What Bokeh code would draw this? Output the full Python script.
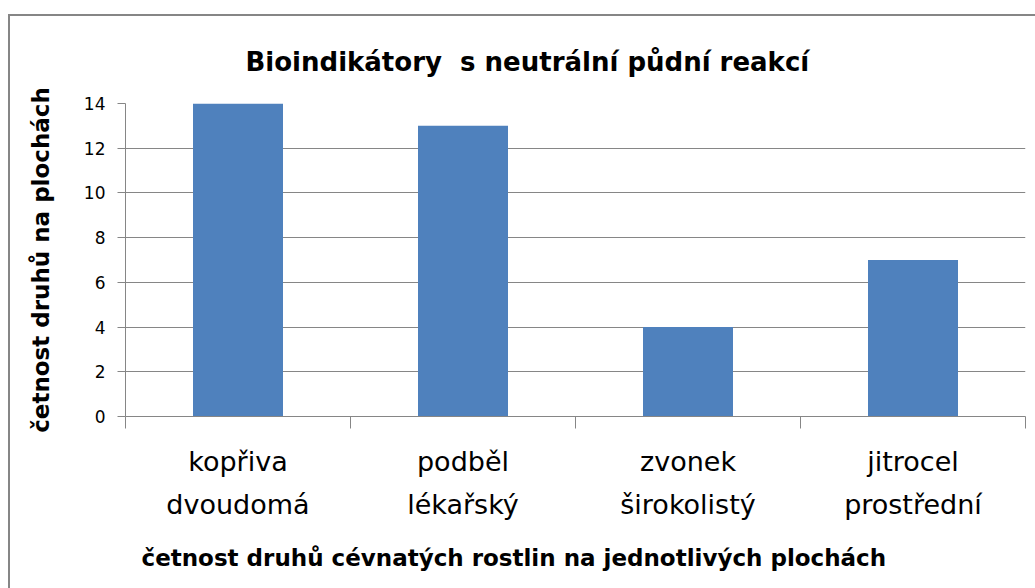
from bokeh.plotting import figure
from bokeh.models import Range1d, FixedTicker, Title, ColumnDataSource
from bokeh.embed import file_html
from bokeh.resources import INLINE

categories = ["kopřiva\ndvoudomá", "podběl\nlékařský", "zvonek\nširokolistý", "jitrocel\nprostřední"]
values = [14, 13, 4, 7]
y_ticks = [0, 2, 4, 6, 8, 10, 12, 14]
title_text = "Bioindikátory\u00a0 s neutrální půdní reakcí"
y_label = "četnost druhů na plochách"
x_label = "četnost druhů cévnatých rostlin na jednotlivých plochách"

FONT = "DejaVu Sans"
GRAY = "#868686"

centers = [i + 0.5 for i in range(len(categories))]
bounds = list(range(len(categories) + 1))

src = ColumnDataSource(dict(x=centers, top=values))

p = figure(width=1025, height=572, output_backend="svg", toolbar_location=None,
           x_range=Range1d(0, len(categories)), y_range=Range1d(0, max(y_ticks)),
           min_border_left=115, min_border_right=12, min_border_top=87, min_border_bottom=173)

p.margin = (14, 0, 0, 8)
p.styles = {"border-left": "2px solid #868686", "border-top": "2px solid #868686",
            "box-sizing": "content-box"}

p.outline_line_color = None
p.background_fill_color = "white"
p.border_fill_color = "white"

p.vbar(x="x", top="top", width=0.4, bottom=0, source=src,
       fill_color="#4F81BD", line_color=None)

# title
p.title.text = title_text
p.title.align = "left"
p.title.vertical_align = "top"
p.title.offset = 120
p.title.text_font = FONT
p.title.text_font_size = "26px"
p.title.text_font_style = "bold"
p.title.text_color = "black"
p.title.standoff = 50

# grid
p.xgrid.visible = False
p.ygrid.grid_line_color = GRAY
p.ygrid.grid_line_width = 1

# y axis
p.yaxis.ticker = FixedTicker(ticks=y_ticks)
p.yaxis.major_tick_out = 8
p.yaxis.major_tick_in = 0
p.yaxis.minor_tick_line_color = None
p.yaxis.axis_line_color = GRAY
p.yaxis.major_tick_line_color = GRAY
p.yaxis.major_label_text_font = FONT
p.yaxis.major_label_text_font_size = "17px"
p.yaxis.major_label_text_color = "black"
p.yaxis.major_label_standoff = 12
p.yaxis.axis_label = y_label
p.yaxis.axis_label_text_font = FONT
p.yaxis.axis_label_text_font_size = "23px"
p.yaxis.axis_label_text_font_style = "bold"
p.yaxis.axis_label_text_color = "black"
p.yaxis.axis_label_standoff = 27

# x axis
p.xaxis.ticker = FixedTicker(ticks=centers, minor_ticks=bounds)
p.xaxis.major_tick_line_color = None
p.xaxis.minor_tick_out = 12
p.xaxis.minor_tick_in = 0
p.xaxis.minor_tick_line_color = GRAY
p.xaxis.axis_line_color = GRAY
p.xaxis.major_label_overrides = dict(zip(centers, categories))
p.xaxis.major_label_text_font = FONT
p.xaxis.major_label_text_font_size = "27px"
p.xaxis.major_label_text_color = "black"
p.xaxis.major_label_text_line_height = 1.4
p.xaxis.major_label_standoff = 17

p.add_layout(Title(text=x_label, align="left", vertical_align="bottom", offset=16, text_font=FONT,
                   text_font_size="23px", text_font_style="bold", text_color="black",
                   standoff=40), "below")

open("out.html", "w").write(file_html(p, INLINE))
